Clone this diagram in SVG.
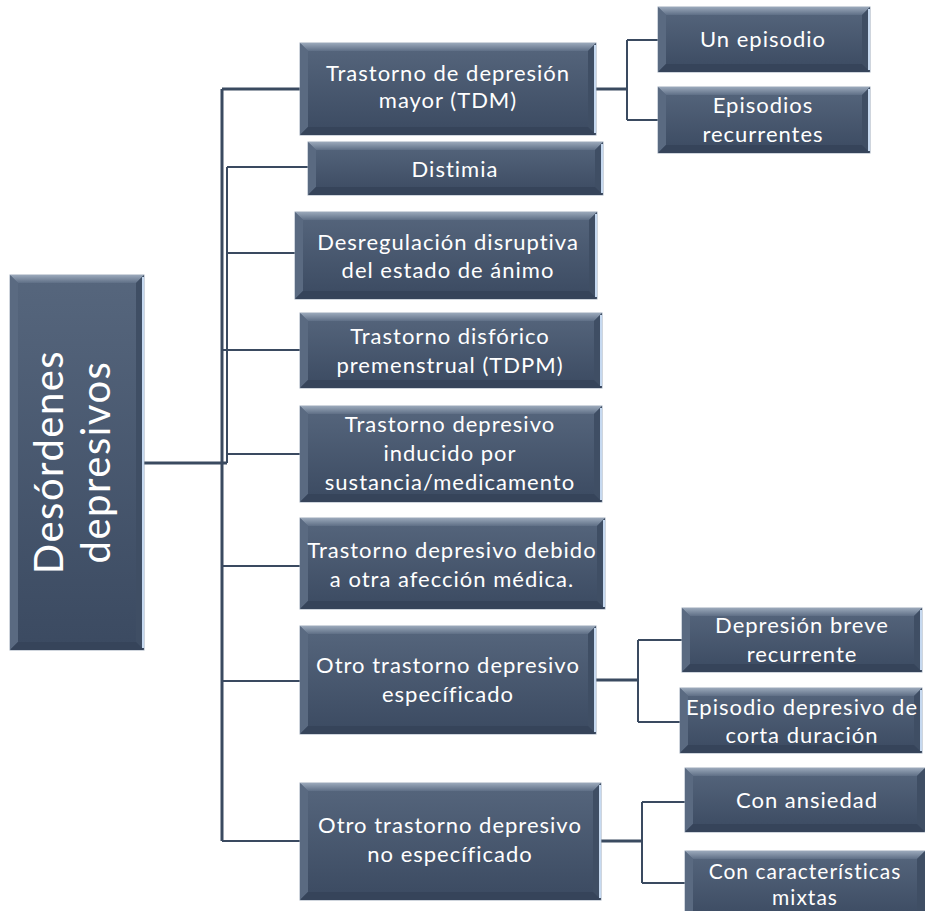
<svg xmlns="http://www.w3.org/2000/svg" width="925" height="911" viewBox="0 0 925 911">
<defs>
<linearGradient id="body" x1="0" y1="0" x2="0" y2="1">
<stop offset="0" stop-color="#56667d"/>
<stop offset="1" stop-color="#3b4a61"/>
</linearGradient>
<linearGradient id="topb" x1="0" y1="0" x2="0" y2="1">
<stop offset="0" stop-color="#9aa8ba"/>
<stop offset="1" stop-color="#5f6f86"/>
</linearGradient>
<style>
.bd{fill:url(#body);stroke:#9fabbb;stroke-width:1}
.tp{fill:url(#topb)}
.lf{fill:#5a6a81}
.rt{fill:#3f4e64}
.bt{fill:#36445a}
.hl{stroke:#c6d9f0;stroke-width:2}
.t{font-family:Lato,"Open Sans",sans-serif;font-size:22px;letter-spacing:1px;fill:#ffffff;text-anchor:middle}
.big{font-size:40px;letter-spacing:1.5px}
.sm{font-size:21px}
.c{stroke:#3a4a60;stroke-width:3;fill:none}
.c2{stroke:#3a4a60;stroke-width:2;fill:none}
</style>
</defs>

<g id="connectors">
<path class="c" d="M144,463 H227"/>
<path class="c" d="M222,89 V841"/>
<path class="c2" d="M227,167 V463"/>
<path class="c" d="M222,89 H300"/>
<path class="c2" d="M227,167 H308"/>
<path class="c2" d="M227,253 H295"/>
<path class="c2" d="M222,350 H300"/>
<path class="c2" d="M227,454 H300"/>
<path class="c2" d="M222,566 H300"/>
<path class="c2" d="M222,681 H300"/>
<path class="c2" d="M222,841 H300"/>
<path class="c" d="M596,89 H627"/>
<path class="c2" d="M627,40 V120 M627,40 H658 M627,120 H658"/>
<path class="c" d="M596,680 H638"/>
<path class="c2" d="M638,640 V722 M638,640 H682 M638,722 H680"/>
<path class="c" d="M601,841 H642"/>
<path class="c2" d="M642,802 V883 M642,802 H685 M642,883 H685"/>
</g>

<g id="root">
<rect class="bd" x="10" y="275" width="134" height="375"/>
<polygon class="tp" points="10,275 144,275 136,283 18,283"/>
<polygon class="lf" points="10,275 18,283 18,642 10,650"/>
<polygon class="rt" points="144,275 144,650 136,642 136,283"/>
<polygon class="bt" points="10,650 144,650 136,642 18,642"/>
<line class="hl" x1="143" y1="277" x2="143" y2="648"/>
<g transform="translate(77,462) rotate(-90)">
<text class="t big" x="0" y="-14">Desórdenes</text>
<text class="t big" x="0" y="33">depresivos</text>
</g>
</g>

<g id="tdm">
<rect class="bd" x="300" y="43" width="296" height="92"/>
<polygon class="tp" points="300,43 596,43 588,51 308,51"/>
<polygon class="lf" points="300,43 308,51 308,127 300,135"/>
<polygon class="rt" points="596,43 596,135 588,127 588,51"/>
<polygon class="bt" points="300,135 596,135 588,127 308,127"/>
<line class="hl" x1="595" y1="45" x2="595" y2="133"/>
<text class="t" x="448" y="81">Trastorno de depresión</text>
<text class="t" x="448" y="108">mayor (TDM)</text>
</g>

<g id="distimia">
<rect class="bd" x="308" y="142" width="295" height="53"/>
<polygon class="tp" points="308,142 603,142 595,150 316,150"/>
<polygon class="lf" points="308,142 316,150 316,187 308,195"/>
<polygon class="rt" points="603,142 603,195 595,187 595,150"/>
<polygon class="bt" points="308,195 603,195 595,187 316,187"/>
<line class="hl" x1="602" y1="144" x2="602" y2="193"/>
<text class="t" x="455" y="177">Distimia</text>
</g>

<g id="desregulacion">
<rect class="bd" x="295" y="212" width="302" height="87"/>
<polygon class="tp" points="295,212 597,212 589,220 303,220"/>
<polygon class="lf" points="295,212 303,220 303,291 295,299"/>
<polygon class="rt" points="597,212 597,299 589,291 589,220"/>
<polygon class="bt" points="295,299 597,299 589,291 303,291"/>
<line class="hl" x1="596" y1="214" x2="596" y2="297"/>
<text class="t" x="448" y="250">Desregulación disruptiva</text>
<text class="t" x="448" y="278">del estado de ánimo</text>
</g>

<g id="tdpm">
<rect class="bd" x="300" y="313" width="302" height="75"/>
<polygon class="tp" points="300,313 602,313 594,321 308,321"/>
<polygon class="lf" points="300,313 308,321 308,380 300,388"/>
<polygon class="rt" points="602,313 602,388 594,380 594,321"/>
<polygon class="bt" points="300,388 602,388 594,380 308,380"/>
<line class="hl" x1="601" y1="315" x2="601" y2="386"/>
<text class="t" x="450" y="344">Trastorno disfórico</text>
<text class="t" x="450" y="373">premenstrual (TDPM)</text>
</g>

<g id="inducido">
<rect class="bd" x="300" y="406" width="302" height="96"/>
<polygon class="tp" points="300,406 602,406 594,414 308,414"/>
<polygon class="lf" points="300,406 308,414 308,494 300,502"/>
<polygon class="rt" points="602,406 602,502 594,494 594,414"/>
<polygon class="bt" points="300,502 602,502 594,494 308,494"/>
<line class="hl" x1="601" y1="408" x2="601" y2="500"/>
<text class="t" x="450" y="432">Trastorno depresivo</text>
<text class="t" x="450" y="461">inducido por</text>
<text class="t" x="450" y="490">sustancia/medicamento</text>
</g>

<g id="afeccion">
<rect class="bd" x="300" y="518" width="305" height="91"/>
<polygon class="tp" points="300,518 605,518 597,526 308,526"/>
<polygon class="lf" points="300,518 308,526 308,601 300,609"/>
<polygon class="rt" points="605,518 605,609 597,601 597,526"/>
<polygon class="bt" points="300,609 605,609 597,601 308,601"/>
<line class="hl" x1="604" y1="520" x2="604" y2="607"/>
<text class="t" x="452" y="558">Trastorno depresivo debido</text>
<text class="t" x="452" y="587">a otra afección médica.</text>
</g>

<g id="otro-especificado">
<rect class="bd" x="300" y="626" width="296" height="108"/>
<polygon class="tp" points="300,626 596,626 588,634 308,634"/>
<polygon class="lf" points="300,626 308,634 308,726 300,734"/>
<polygon class="rt" points="596,626 596,734 588,726 588,634"/>
<polygon class="bt" points="300,734 596,734 588,726 308,726"/>
<line class="hl" x1="595" y1="628" x2="595" y2="732"/>
<text class="t" x="448" y="673">Otro trastorno depresivo</text>
<text class="t" x="448" y="702">específicado</text>
</g>

<g id="otro-no-especificado">
<rect class="bd" x="300" y="783" width="301" height="117"/>
<polygon class="tp" points="300,783 601,783 593,791 308,791"/>
<polygon class="lf" points="300,783 308,791 308,892 300,900"/>
<polygon class="rt" points="601,783 601,900 593,892 593,791"/>
<polygon class="bt" points="300,900 601,900 593,892 308,892"/>
<line class="hl" x1="600" y1="785" x2="600" y2="898"/>
<text class="t" x="450" y="833">Otro trastorno depresivo</text>
<text class="t" x="450" y="862">no específicado</text>
</g>

<g id="un-episodio">
<rect class="bd" x="658" y="7" width="212" height="65"/>
<polygon class="tp" points="658,7 870,7 862,15 666,15"/>
<polygon class="lf" points="658,7 666,15 666,64 658,72"/>
<polygon class="rt" points="870,7 870,72 862,64 862,15"/>
<polygon class="bt" points="658,72 870,72 862,64 666,64"/>
<line class="hl" x1="869" y1="9" x2="869" y2="70"/>
<text class="t" x="763" y="47">Un episodio</text>
</g>

<g id="episodios-recurrentes">
<rect class="bd" x="658" y="87" width="212" height="66"/>
<polygon class="tp" points="658,87 870,87 862,95 666,95"/>
<polygon class="lf" points="658,87 666,95 666,145 658,153"/>
<polygon class="rt" points="870,87 870,153 862,145 862,95"/>
<polygon class="bt" points="658,153 870,153 862,145 666,145"/>
<line class="hl" x1="869" y1="89" x2="869" y2="151"/>
<text class="t" x="763" y="113">Episodios</text>
<text class="t" x="763" y="142">recurrentes</text>
</g>

<g id="depresion-breve">
<rect class="bd" x="682" y="608" width="240" height="64"/>
<polygon class="tp" points="682,608 922,608 914,616 690,616"/>
<polygon class="lf" points="682,608 690,616 690,664 682,672"/>
<polygon class="rt" points="922,608 922,672 914,664 914,616"/>
<polygon class="bt" points="682,672 922,672 914,664 690,664"/>
<line class="hl" x1="921" y1="610" x2="921" y2="670"/>
<text class="t" x="802" y="633">Depresión breve</text>
<text class="t" x="802" y="662">recurrente</text>
</g>

<g id="corta-duracion">
<rect class="bd" x="680" y="688" width="242" height="65"/>
<polygon class="tp" points="680,688 922,688 914,696 688,696"/>
<polygon class="lf" points="680,688 688,696 688,745 680,753"/>
<polygon class="rt" points="922,688 922,753 914,745 914,696"/>
<polygon class="bt" points="680,753 922,753 914,745 688,745"/>
<line class="hl" x1="921" y1="690" x2="921" y2="751"/>
<text class="t" x="802" y="715">Episodio depresivo de</text>
<text class="t" x="802" y="743">corta duración</text>
</g>

<g id="con-ansiedad">
<rect class="bd" x="685" y="768" width="240" height="64"/>
<polygon class="tp" points="685,768 925,768 917,776 693,776"/>
<polygon class="lf" points="685,768 693,776 693,824 685,832"/>
<polygon class="rt" points="925,768 925,832 917,824 917,776"/>
<polygon class="bt" points="685,832 925,832 917,824 693,824"/>
<text class="t" x="807" y="808">Con ansiedad</text>
</g>

<g id="caracteristicas-mixtas">
<rect class="bd" x="685" y="851" width="240" height="70"/>
<polygon class="tp" points="685,851 925,851 917,859 693,859"/>
<polygon class="lf" points="685,851 693,859 693,913 685,921"/>
<polygon class="rt" points="925,851 925,921 917,913 917,859"/>
<text class="t sm" x="805" y="879">Con características</text>
<text class="t sm" x="805" y="905">mixtas</text>
</g>
</svg>
